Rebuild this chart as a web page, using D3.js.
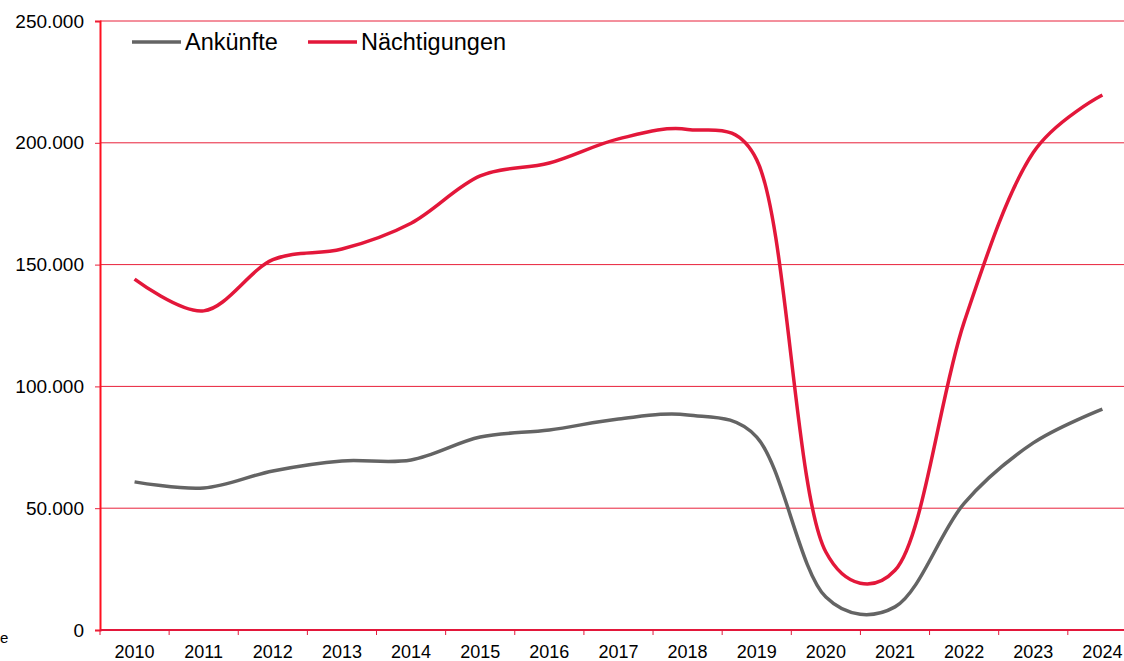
<!DOCTYPE html>
<html>
<head>
<meta charset="utf-8">
<script src="https://cdn.jsdelivr.net/npm/d3@7"></script>
<style>
  body { margin: 0; background: #fff; }
  svg { display: block; font-family: "Liberation Sans", Arial, sans-serif; }
</style>
</head>
<body>
<script>
// data
var years = ["2010", "2011", "2012", "2013", "2014", "2015", "2016", "2017", "2018", "2019", "2020", "2021", "2022", "2023", "2024"];
var ankuenfte = [60800, 58300, 65300, 69400, 69800, 79200, 82100, 86600, 88300, 79200, 13500, 9500, 52000, 76800, 90700];
var naechtigungen = [144000, 131000, 152000, 156400, 167000, 186400, 191700, 201600, 205500, 193000, 32000, 24500, 126400, 196000, 219600];
var yTicks = [0, 50000, 100000, 150000, 200000, 250000];
var seriesNames = ["Ankünfte", "Nächtigungen"];
var seriesColors = ["#646464", "#e3173a"];

var width = 1124, height = 661;
var margin = {left: 100, top: 21, bottom: 31};
var bandW = 69.13;

var svg = d3.select("body").append("svg")
    .attr("width", width)
    .attr("height", height);

var x = d3.scaleBand()
    .domain(years)
    .range([margin.left, margin.left + bandW * years.length]);

var y = d3.scaleLinear()
    .domain([0, 250000])
    .range([height - margin.bottom, margin.top]);

var fmt = function(d){
    return d3.format(",")(d).replace(/,/g, ".");
};

//horizontal grid lines
svg.selectAll(".grid")
    .data(yTicks.filter(function(d){ return d > 0; }))
    .enter()
    .append("line")
    .attr("class", "grid")
    .attr("x1", margin.left)
    .attr("x2", width)
    .attr("y1", function(d){ return y(d); })
    .attr("y2", function(d){ return y(d); })
    .attr("stroke", "#e8203a")
    .attr("stroke-width", 1);

//y axis
var yAxis = svg.append("g")
    .attr("transform", "translate(" + margin.left + ",0)")
    .call(d3.axisLeft(y).tickValues(yTicks).tickFormat(fmt).tickSize(5).tickPadding(11));
yAxis.select(".domain").attr("stroke", "#ff1020").attr("stroke-width", 2);
yAxis.selectAll(".tick line").attr("stroke", "#e8203a");
yAxis.selectAll("text")
    .attr("font-size", "19px")
    .attr("fill", "#000")
    .attr("font-family", "Liberation Sans, Arial, sans-serif");

//x axis
var xAxis = svg.append("g")
    .attr("transform", "translate(0," + y(0) + ")")
    .call(d3.axisBottom(x).tickSize(0).tickPadding(15));
xAxis.select(".domain").attr("stroke", "#e3173a").attr("stroke-width", 2)
    .attr("d", "M" + margin.left + ",0H" + width);
xAxis.selectAll("text")
    .attr("font-size", "18px")
    .attr("fill", "#000")
    .attr("font-family", "Liberation Sans, Arial, sans-serif");
//tick marks between categories
svg.selectAll(".xtick")
    .data(years)
    .enter()
    .append("line")
    .attr("class", "xtick")
    .attr("x1", function(d){ return x(d); })
    .attr("x2", function(d){ return x(d); })
    .attr("y1", y(0))
    .attr("y2", y(0) + 5)
    .attr("stroke", "#e3173a")
    .attr("stroke-width", 1);

//lines
var line = d3.line()
    .x(function(d, i){ return x(years[i]) + x.bandwidth() / 2; })
    .y(function(d){ return y(d); })
    .curve(d3.curveCatmullRom.alpha(0.25));

[ankuenfte, naechtigungen].forEach(function(vals, k){
    svg.append("path")
        .datum(vals)
        .attr("fill", "none")
        .attr("stroke", seriesColors[k])
        .attr("stroke-width", 3.5)
        .attr("stroke-linejoin", "round")
        .attr("d", line);
});

//legend
var legendX = [132, 308];
seriesNames.forEach(function(name, k){
    svg.append("line")
        .attr("x1", legendX[k])
        .attr("x2", legendX[k] + 49)
        .attr("y1", 42)
        .attr("y2", 42)
        .attr("stroke", seriesColors[k])
        .attr("stroke-width", 3.5);
    svg.append("text")
        .attr("x", legendX[k] + 53)
        .attr("y", 50)
        .attr("font-size", "23.5px")
        .attr("fill", "#000")
        .text(name);
});

//remnant of a source note at the left edge
svg.append("text")
    .attr("x", 0)
    .attr("y", 643)
    .attr("font-size", "15px")
    .attr("fill", "#000")
    .text("e");
</script>
</body>
</html>
